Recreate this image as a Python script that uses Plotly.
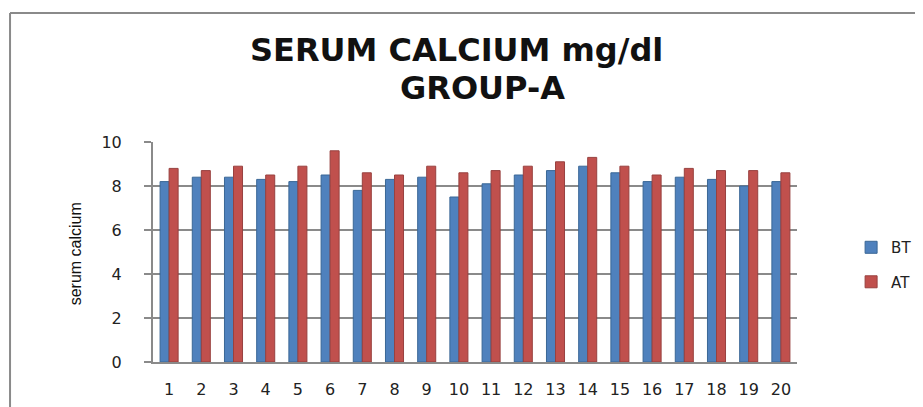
import plotly.graph_objects as go

categories = [str(i) for i in range(1, 21)]
bt_values = [8.2, 8.4, 8.4, 8.3, 8.2, 8.5, 7.8, 8.3, 8.4, 7.5, 8.1, 8.5, 8.7, 8.9, 8.6, 8.2, 8.4, 8.3, 8.0, 8.2]
at_values = [8.8, 8.7, 8.9, 8.5, 8.9, 9.6, 8.6, 8.5, 8.9, 8.6, 8.7, 8.9, 9.1, 9.3, 8.9, 8.5, 8.8, 8.7, 8.7, 8.6]
y_ticks = [0, 2, 4, 6, 8, 10]
title_lines = ["SERUM CALCIUM mg/dl", "GROUP-A"]
y_title = "serum calcium"

fig = go.Figure()
fig.add_trace(go.Bar(x=categories, y=bt_values, name="BT", legendgroup="bt",
                     marker=dict(color="#4F81BD", line=dict(color="#3A6796", width=1))))
fig.add_trace(go.Bar(x=categories, y=at_values, name="AT", legendgroup="at",
                     marker=dict(color="#C0504D", line=dict(color="#98413F", width=1))))

grid = "#8A8A8A"
fig.update_layout(
    width=923, height=407,
    margin=dict(l=145, r=134, t=134, b=53, autoexpand=False),
    paper_bgcolor="white", plot_bgcolor="white",
    barmode="group", bargap=0.44, bargroupgap=0.0,
    font=dict(family="DejaVu Sans", color="#222"),
    legend=dict(x=1.084, xanchor="left", y=0.443, yanchor="middle",
                traceorder="grouped", tracegroupgap=12,
                font=dict(size=15, family="DejaVu Sans", color="#222")),
    showlegend=True,
)
fig.update_xaxes(type="category", showline=True, linecolor=grid, linewidth=2,
                 ticks="", tickfont=dict(size=16), ticklabelstandoff=12,
                 showgrid=False, automargin=False)
fig.update_yaxes(range=[0, 10], tickvals=y_ticks, showline=True, linecolor=grid, linewidth=2,
                 ticks="outside", ticklen=7, tickcolor=grid, tickwidth=2,
                 gridcolor=grid, gridwidth=1.5, tickfont=dict(size=16),
                 ticklabelstandoff=19, automargin=False)

fig.add_annotation(text="<b>" + title_lines[0] + "</b>", xref="paper", yref="paper",
                   x=0.472, y=1.418, xanchor="center", yanchor="middle", showarrow=False,
                   font=dict(family="DejaVu Sans", size=32, color="#111"))
fig.add_annotation(text="<b>" + title_lines[1] + "</b>", xref="paper", yref="paper",
                   x=0.512, y=1.245, xanchor="center", yanchor="middle", showarrow=False,
                   font=dict(family="DejaVu Sans", size=32, color="#111"))
fig.add_annotation(text=y_title, xref="paper", yref="paper", x=-0.119, y=0.491,
                   xanchor="center", yanchor="middle", textangle=-90, showarrow=False,
                   font=dict(family="Liberation Sans", size=16, color="#111"))

fig.add_shape(type="line", xref="paper", yref="paper", x0=-0.222, x1=1.25, y0=1.586, y1=1.586,
              line=dict(color=grid, width=2))
fig.add_shape(type="line", xref="paper", yref="paper", x0=-0.222, x1=-0.222, y0=1.586, y1=-0.3,
              line=dict(color=grid, width=2))

fig.write_html("out.html")
